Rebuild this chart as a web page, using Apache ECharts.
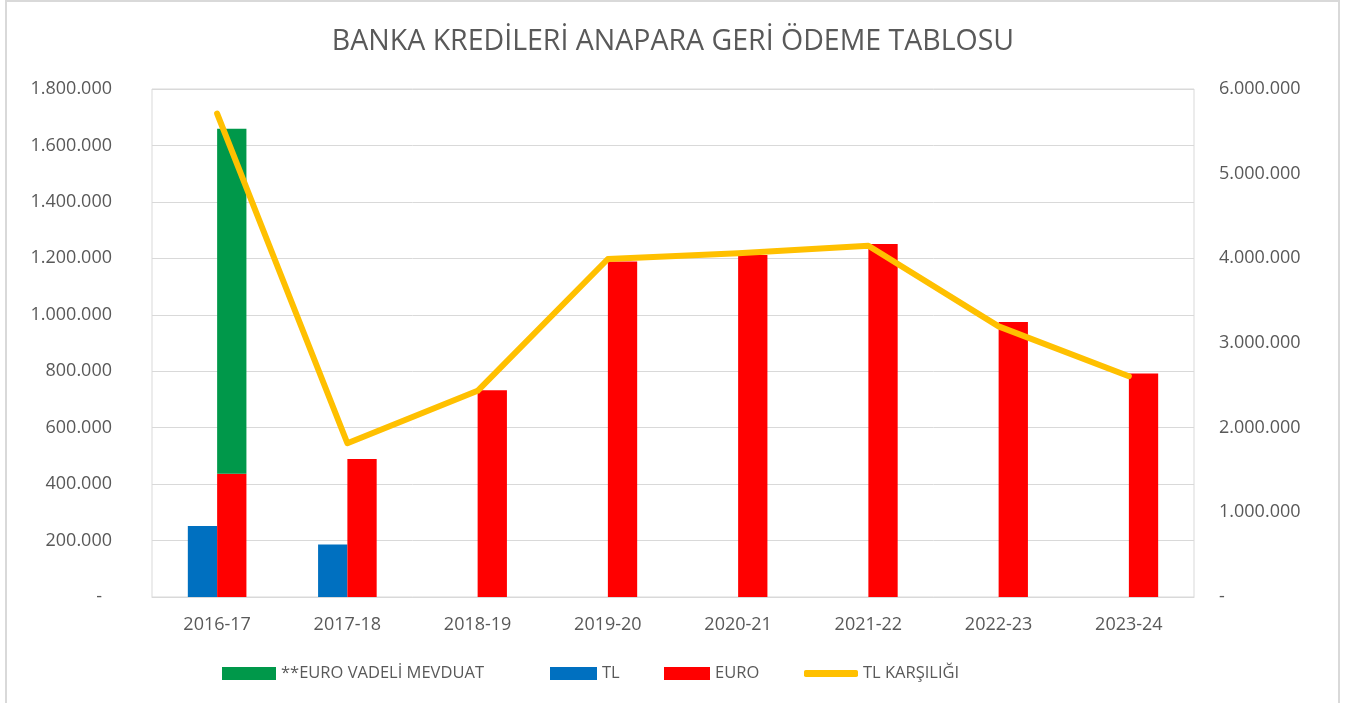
<!DOCTYPE html>
<html>
<head>
<meta charset="utf-8">
<script src="https://cdn.jsdelivr.net/npm/echarts@6/dist/echarts.min.js"></script>
<style>
html,body{margin:0;padding:0;background:#fff;}
#chart{width:1359px;height:703px;}
</style>
</head>
<body>
<div id="chart"></div>
<script>
const title = 'BANKA KREDİLERİ ANAPARA GERİ ÖDEME TABLOSU';
const categories = ['2016-17','2017-18','2018-19','2019-20','2020-21','2021-22','2022-23','2023-24'];
const tlValues = [252000, 186000, null, null, null, null, null, null];
const euroValues = [437000, 489000, 733000, 1189000, 1212000, 1251000, 974000, 792000];
const vadeliValues = [1222000, null, null, null, null, null, null, null];
const tlKarsiligiValues = [5710000, 1816000, 2435000, 3992000, 4059000, 4149000, 3196000, 2608000];
const seriesNames = ['**EURO VADELİ MEVDUAT', 'TL', 'EURO', 'TL KARŞILIĞI'];

const FONT = 'Open Sans';
const TXT = '#595959';
function fmt(v){
  return String(Math.round(v)).replace(/\B(?=(\d{3})+(?!\d))/g, '.');
}

const chart = echarts.init(document.getElementById('chart'));
const legendBase = {
  orient: 'horizontal',
  top: 665,
  padding: 0,
  itemHeight: 13,
  icon: 'rect',
  textStyle: {color: TXT, fontSize: 16.5, fontFamily: FONT},
  selectedMode: false
};
chart.setOption({
  animation: false,
  backgroundColor: '#ffffff',
  textStyle: {fontFamily: FONT},
  graphic: [{
    type: 'rect',
    shape: {x: 6, y: 1, width: 1333, height: 720},
    style: {fill: 'none', stroke: '#d9d9d9', lineWidth: 2},
    silent: true
  }],
  title: {
    text: title,
    left: 668,
    textAlign: 'center',
    top: 22,
    textStyle: {color: TXT, fontSize: 28.5, fontWeight: 'normal', fontFamily: FONT}
  },
  legend: [
    Object.assign({}, legendBase, {left: 222, itemWidth: 54, data: [seriesNames[0]]}),
    Object.assign({}, legendBase, {left: 550, itemWidth: 47, data: [seriesNames[1]]}),
    Object.assign({}, legendBase, {left: 664, itemWidth: 46, data: [seriesNames[2]]}),
    Object.assign({}, legendBase, {left: 804, itemWidth: 54, itemHeight: 7, icon: 'roundRect', data: [seriesNames[3]]})
  ],
  grid: {
    left: 152, right: 165, top: 89, bottom: 106,
    show: true, borderColor: '#d9d9d9', borderWidth: 1, containLabel: false
  },
  xAxis: {
    type: 'category',
    data: categories,
    axisLine: {show: true, lineStyle: {color: '#d9d9d9', width: 1}},
    axisTick: {show: false},
    axisLabel: {color: TXT, fontSize: 18, fontFamily: FONT, margin: 19}
  },
  yAxis: [{
    type: 'value',
    min: 0, max: 1800000, interval: 200000,
    axisLine: {show: false},
    axisTick: {show: false},
    splitLine: {lineStyle: {color: '#d9d9d9', width: 1}},
    axisLabel: {
      color: TXT, fontSize: 18, fontFamily: FONT, margin: 40,
      formatter: v => v === 0 ? '{z|-}' : fmt(v),
      rich: {z: {color: TXT, fontSize: 18, fontFamily: FONT, padding: [0, 10, 0, 0]}}
    }
  }, {
    type: 'value',
    min: 0, max: 6000000, interval: 1000000,
    position: 'right',
    axisLine: {show: false},
    axisTick: {show: false},
    splitLine: {show: false},
    axisLabel: {
      color: TXT, fontSize: 18, fontFamily: FONT, margin: 25,
      formatter: v => v === 0 ? '-' : fmt(v)
    }
  }],
  series: [
    {
      name: seriesNames[1], type: 'bar', data: tlValues,
      barWidth: 29.3, barGap: '0%',
      itemStyle: {color: '#0070C0'}
    },
    {
      name: seriesNames[2], type: 'bar', data: euroValues, stack: 'euro',
      barWidth: 29.3, barGap: '0%',
      itemStyle: {color: '#FF0000'}
    },
    {
      name: seriesNames[0], type: 'bar', data: vadeliValues, stack: 'euro',
      barWidth: 29.3, barGap: '0%',
      itemStyle: {color: '#00984A'}
    },
    {
      name: seriesNames[3], type: 'line', yAxisIndex: 1, data: tlKarsiligiValues,
      symbol: 'none', showSymbol: false, z: 5,
      lineStyle: {color: '#FFC000', width: 6, cap: 'round', join: 'round'},
      itemStyle: {color: '#FFC000'}
    }
  ]
});
</script>
</body>
</html>
